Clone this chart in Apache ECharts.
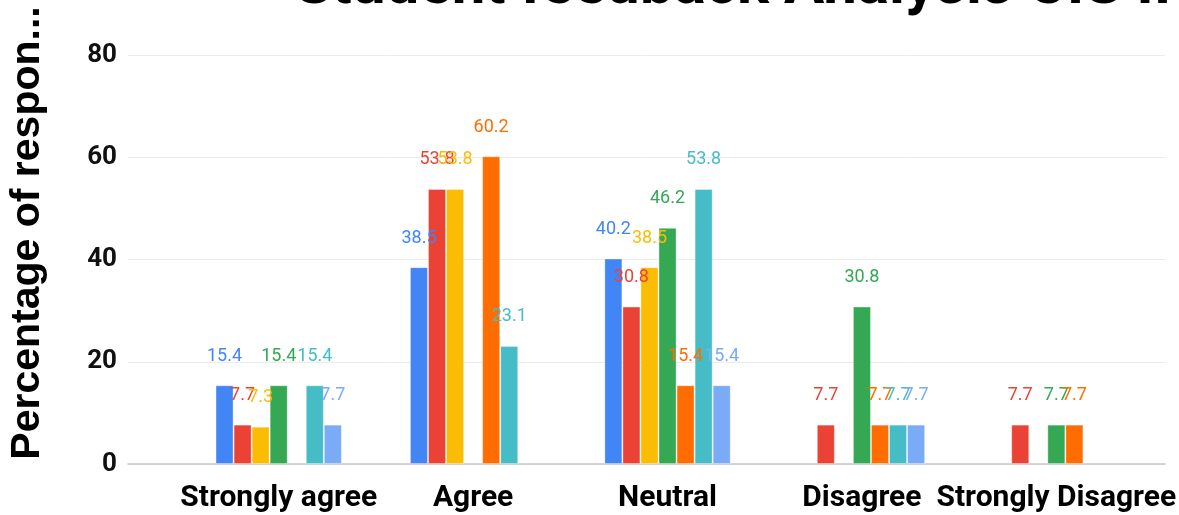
<!DOCTYPE html>
<html>
<head>
<meta charset="utf-8">
<script src="https://cdn.jsdelivr.net/npm/echarts@6/dist/echarts.min.js"></script>
<style>
  html, body { margin: 0; padding: 0; background: #fff; }
  #main { width: 1179px; height: 515px; }
</style>
</head>
<body>
<div id="main"></div>
<script>
// categories on x axis
const categories = ["Strongly agree", "Agree", "Neutral", "Disagree", "Strongly Disagree"];
const yTicks = [0, 20, 40, 60, 80];
// one array per question (null = no bar)
const q1 = [15.4, 38.5, 40.2, null, null];
const q2 = [7.7, 53.8, 30.8, 7.7, 7.7];
const q3 = [7.3, 53.8, 38.5, null, null];
const q4 = [15.4, null, 46.2, 30.8, 7.7];
const q5 = [null, 60.2, 15.4, 7.7, 7.7];
const q6 = [15.4, 23.1, 53.8, 7.7, null];
const q7 = [7.7, null, 15.4, 7.7, null];
const seriesData = [q1, q2, q3, q4, q5, q6, q7];
const colors = ["#4285F4", "#EA4335", "#FBBC04", "#34A853", "#FF6D01", "#46BDC6", "#7BAAF7"];

const roboto = "Roboto, 'Noto Sans', sans-serif";

var myChart = echarts.init(document.getElementById("main"));
myChart.setOption({
  animation: false,
  color: colors,
  title: {
    text: "Student feedback Analysis CIS II",
    left: 728,
    top: -47,
    textAlign: "center",
    textStyle: {
      fontFamily: roboto,
      fontWeight: "bold",
      fontSize: 60,
      color: "#000",
    },
  },
  graphic: [
    {
      type: "text",
      x: 28,
      y: 233,
      rotation: Math.PI / 2,
      style: {
        text: "Percentage of respon...",
        font: "bold 41px Arial, 'Liberation Sans', sans-serif",
        fill: "#000",
        textAlign: "center",
        textVerticalAlign: "middle",
      },
    },
  ],
  grid: [
    { left: 128, right: 14, top: 55, bottom: 51 },
    { left: 181.5, right: 23.5, top: 55, bottom: 51 },
  ],
  xAxis: [
    {
      gridIndex: 0,
      type: "value",
      min: 0,
      max: 1,
      axisLine: { show: true, onZero: false, lineStyle: { color: "#c8c8c8", width: 1.5 } },
      axisTick: { show: false },
      axisLabel: { show: false },
      splitLine: { show: false },
    },
    {
      gridIndex: 1,
      type: "category",
      data: categories,
      axisLine: { show: false },
      axisTick: { show: false },
      axisLabel: {
        interval: 0,
        hideOverlap: false,
        margin: 19,
        fontFamily: roboto,
        fontWeight: "bold",
        fontSize: 30,
        color: "#000",
      },
    },
  ],
  yAxis: [
    {
      gridIndex: 0,
      type: "value",
      min: yTicks[0],
      max: yTicks[yTicks.length - 1],
      interval: 20,
      axisLine: { show: false },
      axisTick: { show: false },
      axisLabel: {
        margin: 11,
        fontFamily: roboto,
        fontWeight: "bold",
        fontSize: 26,
        color: "#111",
      },
      splitLine: { lineStyle: { color: "#ebebeb", width: 1 } },
    },
    {
      gridIndex: 1,
      type: "value",
      min: yTicks[0],
      max: yTicks[yTicks.length - 1],
      show: false,
      splitLine: { show: false },
    },
  ],
  series: seriesData.map((arr, i) => ({
    name: "Q" + (i + 1),
    type: "bar",
    xAxisIndex: 1,
    yAxisIndex: 1,
    data: arr,
    barGap: "0%",
    barCategoryGap: "35%",
    itemStyle: {
      color: colors[i],
      borderColor: "rgba(255,255,255,0.35)",
      borderWidth: 1,
    },
    label: {
      show: true,
      position: "top",
      distance: 20,
      color: colors[i],
      fontFamily: roboto,
      fontSize: 18,
    },
  })),
});
</script>
</body>
</html>
